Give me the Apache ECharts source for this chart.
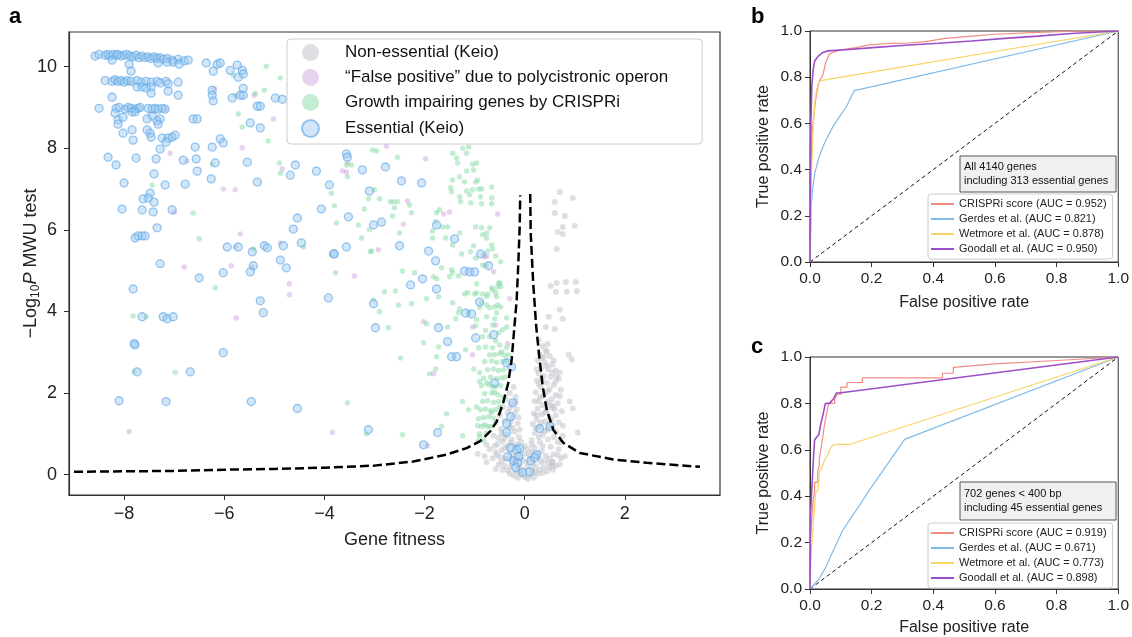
<!DOCTYPE html>
<html>
<head>
<meta charset="utf-8">
<script src="https://cdn.jsdelivr.net/npm/echarts@6/dist/echarts.min.js"></script>
<style>
html, body { margin: 0; padding: 0; background: #fff; }
#chart { width: 1132px; height: 637px; }
</style>
</head>
<body>
<div id="chart"></div>
<script>
// ---- panel a: gene fitness vs -log10 P ----
var fitTicks = [-8, -6, -4, -2, 0, 2];
var pTicks = [0, 2, 4, 6, 8, 10];

var catNames = [
  'Non-essential (Keio)',
  '\u201cFalse positive\u201d due to polycistronic operon',
  'Growth impairing genes by CRISPRi',
  'Essential (Keio)'
];

var nonEssential = [
  [0.70,6.93],[0.96,6.78],[0.60,6.68],[0.60,6.41],[0.80,6.34],[0.76,6.07],[1.00,6.10],[0.66,5.95],[0.76,5.90],[0.64,5.53],
  [0.52,4.63],[0.64,4.70],[0.82,4.72],[1.02,4.72],[0.62,4.48],[0.84,4.48],[1.04,4.50],[0.70,4.04],[0.48,3.87],[0.76,3.82],
  [0.42,3.62],[0.60,3.57],[0.88,2.94],[0.94,2.82],[0.44,3.01],[0.38,2.89],[0.70,2.50],[0.64,2.40],[0.90,1.79],[0.96,1.62],
  [0.56,1.69],[1.06,1.03],[0.74,0.78],[0.56,0.22],[0.56,0.32],[-0.94,0.51],[-0.76,0.73],
  [0.36,3.15],[0.42,3.05],[0.30,2.95],[0.50,2.90],[0.26,2.80],[0.40,2.75],[0.55,2.70],[0.33,2.62],[0.47,2.58],[0.62,2.55],
  [0.28,2.48],[0.38,2.42],[0.52,2.40],[0.68,2.35],[0.24,2.30],[0.44,2.25],[0.58,2.20],[0.32,2.15],[0.50,2.10],[0.72,2.08],
  [0.22,2.02],[0.40,1.98],[0.62,1.95],[0.30,1.90],[0.54,1.85],[0.20,1.80],[0.46,1.78],[0.66,1.75],[0.36,1.70],[0.56,1.64],
  [0.26,1.62],[0.44,1.58],[0.74,1.55],[0.18,1.50],[0.34,1.48],[0.62,1.45],[0.50,1.40],[0.24,1.36],[0.40,1.30],[0.68,1.28],
  [0.16,1.24],[0.56,1.20],[0.30,1.16],[0.46,1.10],[0.62,1.05],[0.20,1.02],[0.36,0.98],[0.76,0.95],
  [0.28,3.30],[0.46,3.20],[0.34,2.85],[0.58,2.80],[0.44,2.66],[0.24,2.58],[0.56,2.50],[0.34,2.34],[0.62,2.28],[0.28,2.22],
  [0.46,2.05],[0.36,1.92],[0.70,1.92],[0.50,1.70],[0.28,1.80],[0.60,1.60],[0.40,1.52],[0.24,1.46],[0.54,1.32],[0.32,1.28],
  [0.76,1.20],[0.48,1.22],[0.22,1.14],[0.40,1.06],[0.58,0.92],[0.28,0.92],[0.46,0.86],[0.66,0.80],[0.14,0.84],[0.30,0.80],
  [-0.22,2.15],[-0.30,2.00],[-0.18,1.90],[-0.38,1.85],[-0.26,1.72],[-0.44,1.65],[-0.16,1.60],[-0.34,1.52],[-0.50,1.45],[-0.24,1.40],
  [-0.40,1.32],[-0.58,1.28],[-0.14,1.25],[-0.30,1.18],[-0.48,1.12],[-0.20,1.05],[-0.36,0.98],[-0.62,0.95],[-0.12,0.92],[-0.26,0.86],
  [-0.44,0.82],[-0.54,0.75],[-0.16,0.74],[-0.34,0.70],
  [-0.20,1.50],[-0.28,1.30],[-0.46,1.00],[-0.24,1.14],[-0.10,1.10],[-0.40,0.90],[-0.28,0.78],[-0.08,0.82],[-0.52,0.90],[-0.30,1.62],
  [-0.18,1.78],[-0.12,1.40],
  [-0.70,0.62],[-0.58,0.55],[-0.46,0.60],[-0.30,0.56],[-0.10,0.58],[0.06,0.62],[0.20,0.66],[0.36,0.70],[0.52,0.68],[0.68,0.62],
  [-0.64,0.40],[-0.50,0.44],[-0.38,0.38],[-0.24,0.46],[-0.08,0.42],[0.08,0.48],[0.26,0.52],[0.42,0.46],[0.58,0.50],[0.72,0.40],
  [-0.52,0.25],[-0.40,0.22],[-0.26,0.28],[-0.10,0.24],[0.04,0.30],[0.18,0.26],[0.32,0.30],[0.48,0.28],[0.62,0.22],[-0.34,0.10],
  [-0.18,0.08],[-0.02,0.12],[0.14,0.10],[0.30,0.12],[0.44,0.08],[-0.22,-0.02],[-0.06,0.00],[0.10,-0.02],[0.26,0.02],[0.00,-0.06],
  [-0.12,0.16],[0.22,0.18],[0.38,0.18],[-0.44,0.12],[0.56,0.12],
  [-0.60,0.70],[-0.40,0.66],[-0.20,0.68],[0.00,0.70],[0.14,0.74],[-0.56,0.48],[-0.30,0.40],[-0.14,0.50],[0.00,0.52],[0.14,0.56],
  [0.34,0.58],[0.50,0.40],[0.66,0.48],[-0.46,0.32],[-0.18,0.34],[-0.04,0.36],[0.12,0.38],[0.28,0.40],[0.40,0.34],[0.54,0.30],
  [-0.58,0.14],[-0.28,0.18],[0.06,0.20],[0.50,0.18],[-0.10,0.04],[0.20,0.06],[0.36,0.04],[-0.30,0.02],[0.06,-0.10],[-0.14,-0.08],
  [0.18,-0.08],[-0.80,0.45],[-0.76,0.30],[0.80,0.45],[0.70,0.25]
];

var falsePositive = [
  [-7.88,9.60],[-7.16,8.96],[-7.08,7.88],[-6.74,7.69],[-6.20,9.47],[-6.02,7.00],[-5.78,6.98],[-5.64,8.01],[-5.40,9.30],[-5.02,8.72],
  [-4.84,7.49],[-3.64,7.44],[-3.56,7.42],[-3.54,7.64],[-7.00,6.44],[-5.68,5.90],[-5.78,5.58],[-4.88,5.68],[-5.86,5.12],[-6.80,5.09],
  [-5.44,5.09],[-4.70,4.68],[-4.70,4.41],[-5.76,3.84],[-3.40,4.87],[-2.92,5.51],[-7.90,1.05],[-3.84,1.03],[-2.76,8.05],[-1.98,7.74],
  [-2.34,6.71],[-1.50,6.44],[-1.62,6.39],[-0.54,6.39],[-0.80,5.34],[-0.62,4.97],[-2.42,6.14],[-0.30,4.31],[-1.04,3.62],[-2.02,3.75],
  [-0.58,3.67],[-0.34,3.21],[-1.04,2.94],[-1.82,2.47],[-1.94,0.71],[-0.76,5.36]
];

var growthImpairing = [
  [-6.88,10.16],[-5.82,9.79],[-5.16,10.01],[-4.88,9.72],[-5.38,9.35],[-5.20,9.42],[-5.78,9.30],[-5.64,8.52],[-5.72,8.84],[-5.12,8.18],
  [-4.90,7.64],[-4.88,7.39],[-3.86,6.90],[-3.80,6.59],[-3.76,6.17],[-3.54,7.30],[-3.46,7.59],[-6.62,6.41],[-7.44,7.10],[-6.24,7.61],
  [-7.92,9.62],[-7.82,3.89],[-7.56,3.87],[-7.80,2.52],[-6.98,2.50],[-6.50,5.78],[-6.18,4.58],[-5.42,5.53],[-4.42,5.58],[-3.32,6.12],
  [-3.20,6.51],[-3.10,6.00],[-3.26,5.80],[-3.08,5.46],[-3.02,4.28],[-2.90,3.99],[-2.72,3.60],[-3.54,1.76],[-3.16,1.00],
  [-3.04,7.96],[-2.96,7.93],[-2.54,7.78],[-3.56,7.59],[-1.44,7.88],[-1.36,7.76],[-1.24,8.00],[-1.16,7.88],[-1.12,8.03],[-1.34,7.64],
  [-0.96,7.64],[-1.04,7.61],[-1.02,7.47],[-1.16,7.44],[-1.44,7.22],[-1.30,7.30],[-1.20,7.17],[-0.98,7.17],[-0.94,7.22],[-1.48,7.03],
  [-1.46,6.93],[-1.16,6.95],[-1.04,6.98],[-0.92,7.00],[-0.86,7.00],[-0.66,7.05],[-1.30,6.81],[-1.10,6.86],[-0.88,6.81],[-0.66,6.78],
  [-1.28,6.69],[-1.08,6.66],[-0.86,6.64],[-0.66,6.64],[-3.00,6.98],[-3.12,6.76],[-2.90,6.76],[-2.68,6.69],[-2.62,6.69],[-2.54,6.69],
  [-2.60,6.54],[-2.30,6.61],[-2.26,6.42],[-2.64,6.34],[-1.70,6.49],[-1.76,6.42],[-1.78,6.20],[-1.54,6.07],[-1.64,6.07],[-1.84,5.97],
  [-1.84,5.80],[-1.58,5.80],[-1.30,5.92],[-0.98,6.07],[-0.86,6.05],[-0.70,6.05],[-0.84,5.88],[-0.76,5.92],[-0.76,5.80],[-0.66,5.63],
  [-0.64,5.53],[-0.74,5.48],[-0.58,5.36],[-1.02,5.61],[-1.08,5.46],[-0.82,5.39],[-0.98,5.31],[-0.78,5.12],[-0.84,5.14],[-0.48,5.22],
  [-1.26,5.41],[-1.44,5.63],[-1.44,4.95],[-1.50,4.85],[-1.66,5.07],[-1.82,4.85],[-2.20,4.95],[-2.44,4.99],[-2.50,5.92],[-3.06,5.48],
  [-3.78,4.95],[-2.58,4.50],[-2.80,4.48],[-1.76,4.80],[-0.96,4.68],[-0.96,4.46],[-0.84,4.43],[-0.66,4.58],[-0.58,4.46],[-0.52,4.70],
  [-0.48,4.61],[-0.56,4.36],[-0.76,4.36],[-1.20,4.43],
  [-1.46,5.02],[-1.32,4.87],[-2.26,4.19],[-2.52,4.16],[-1.96,4.31],[-1.72,4.36],[-1.44,4.21],[-1.30,4.06],[-1.14,4.46],[-1.00,4.43],
  [-0.74,4.43],[-0.64,4.53],[-0.54,4.60],[-0.50,4.70],[-0.86,4.21],[-0.76,4.16],[-0.70,4.09],[-0.90,4.09],[-0.60,4.11],[-0.54,4.16],
  [-0.48,4.11],[-0.56,3.97],[-0.60,3.82],[-0.76,3.87],[-0.64,3.67],[-0.96,3.80],[-1.12,3.97],[-1.32,3.97],[-1.38,3.82],[-0.98,3.65],
  [-0.78,3.53],[-0.84,3.38],[-0.70,3.38],[-0.58,3.28],[-0.52,3.48],[-0.44,3.55],[-0.36,3.62],[-0.36,3.84],[-2.02,3.23],[-1.96,3.70],
  [-1.54,3.62],[-1.72,3.13],[-1.18,3.06],[-0.92,3.11],[-0.78,3.13],[-0.64,3.11],[-0.50,3.18],[-0.36,3.11],[-0.46,3.01],[-2.48,2.86],
  [-1.76,2.89],[-1.90,2.47],[-1.78,2.59],[-0.90,2.50],[-1.02,2.59],[-1.24,1.79],[-1.12,1.59],[-0.96,1.66],[-0.92,1.37],[-0.90,2.28],
  [-0.76,2.25],[-0.64,2.15],[-0.60,2.01],[-0.44,1.91],[-0.50,1.66],[-0.66,1.52],[-0.86,1.18],[-0.74,1.18],[-0.90,0.93],[-1.24,0.95],
  [-1.56,1.49],[-1.66,1.18],[-2.44,0.98],
  [-0.70,2.94],[-0.60,2.94],[-0.50,2.96],[-0.40,2.92],[-0.32,2.94],[-0.80,2.77],[-0.66,2.79],[-0.56,2.75],[-0.44,2.77],[-0.36,2.79],
  [-0.74,2.57],[-0.62,2.59],[-0.52,2.55],[-0.42,2.57],[-0.82,2.37],[-0.68,2.39],[-0.56,2.35],[-0.46,2.37],[-0.38,2.39],[-0.86,2.18],
  [-0.72,2.20],[-0.58,2.16],[-0.48,2.18],[-0.80,1.98],[-0.66,2.00],[-0.54,1.96],[-0.84,1.79],[-0.74,1.81],[-0.62,1.77],[-0.52,1.79],
  [-0.88,1.59],[-0.78,1.61],[-0.68,1.57],[-0.58,1.59],[-0.82,1.40],[-0.72,1.42],[-0.62,1.38],[-0.94,1.20],[-0.80,1.22],[-0.68,1.18],
  [-0.90,1.00],[-0.76,1.02],[-0.94,0.81],[-0.82,0.83]
];

var essential = [
  [-8.58,10.26],[-8.50,10.30],[-8.38,10.28],[-8.32,10.30],[-8.28,10.26],[-8.22,10.30],[-8.16,10.28],[-8.12,10.30],[-8.06,10.26],[-8.00,10.28],
  [-7.94,10.30],[-7.88,10.26],[-7.82,10.24],[-7.76,10.28],[-7.70,10.22],[-7.64,10.26],[-7.58,10.22],[-7.52,10.24],[-7.46,10.20],[-7.40,10.24],
  [-7.34,10.20],[-7.28,10.22],[-7.22,10.18],[-7.14,10.20],[-7.04,10.16],[-6.92,10.18],[-6.80,10.14],[-6.72,10.16],
  [-8.24,10.16],[-7.90,10.06],[-7.86,9.89],[-7.32,10.09],[-7.14,10.11],[-7.02,10.11],[-6.90,10.06],[-6.36,10.09],[-6.22,9.89],[-6.14,10.06],
  [-6.08,10.09],[-5.74,10.04],[-5.88,9.91],[-5.64,9.91],[-5.62,9.82],[-5.72,9.74],
  [-8.38,9.66],[-8.24,9.64],[-8.18,9.68],[-8.12,9.64],[-8.06,9.66],[-8.00,9.62],[-7.94,9.66],[-7.86,9.64],[-7.74,9.66],[-7.66,9.62],
  [-7.56,9.64],[-7.46,9.62],[-7.34,9.64],[-7.28,9.60],[-7.16,9.64],[-7.12,9.58],[-6.92,9.62],
  [-7.74,9.50],[-7.64,9.50],[-7.56,9.48],[-7.46,9.50],
  [-7.46,9.35],[-7.12,9.40],[-6.92,9.30],[-8.24,9.25],[-6.24,9.42],[-6.24,9.30],[-6.22,9.16],[-5.84,9.23],[-5.68,9.30],[-5.62,9.30],
  [-5.62,9.47],[-5.34,9.03],[-5.28,9.03],[-4.98,9.23],[-4.84,9.20],
  [-8.50,8.98],[-8.16,8.98],[-8.10,9.00],[-7.98,8.96],[-7.92,9.00],[-7.86,8.98],[-7.78,8.96],[-7.72,8.98],[-7.68,9.00],[-7.52,8.98],
  [-7.44,8.96],[-7.38,8.98],[-7.32,8.96],[-7.24,8.98],[-7.18,8.96],
  [-8.18,8.86],[-8.12,8.70],[-8.02,8.76],[-7.84,8.89],[-7.78,8.89],[-7.44,8.79],[-7.54,8.72],[-7.28,8.72],[-7.34,8.67],[-7.32,8.59],
  [-8.12,8.59],[-8.02,8.37],[-7.84,8.45],[-7.82,8.20],[-7.54,8.45],[-7.48,8.37],[-7.46,8.27],[-7.24,8.25],[-7.12,8.25],[-7.04,8.27],
  [-6.98,8.32],[-7.28,7.98],[-7.16,8.15],[-6.62,8.72],[-6.54,8.72],[-6.08,8.23],[-6.02,8.13],[-6.24,8.03],[-6.58,8.03],[-5.28,8.50],
  [-5.48,8.62],
  [-8.32,7.78],[-7.76,7.76],[-7.36,7.74],[-6.82,7.71],[-6.56,7.74],[-6.18,7.64],[-6.54,7.44],[-6.26,7.25],[-8.16,7.59],[-7.40,7.37],
  [-8.00,7.15],[-7.18,7.10],[-6.78,7.12],[-5.34,7.17],[-5.54,7.66],[-4.58,7.59],[-4.68,7.34],[-4.16,7.44],[-3.90,7.10],[-3.56,7.86],
  [-3.54,7.78],[-7.48,6.90],[-7.52,6.78],[-7.62,6.76],[-7.40,6.68],[-8.04,6.51],[-7.64,6.49],[-7.42,6.44],[-7.04,6.49],[-7.34,6.05],
  [-4.54,6.29],[-4.62,6.02],[-4.06,6.51],[-3.52,6.32],
  [-7.78,5.80],[-7.72,5.85],[-7.64,5.85],[-7.58,5.85],[-7.28,5.17],[-7.82,4.55],[-6.50,4.82],[-6.02,4.95],[-5.94,5.58],[-5.72,5.58],
  [-5.44,5.46],[-5.42,5.12],[-5.48,4.97],[-5.20,5.61],[-5.14,5.56],[-4.82,5.61],[-4.88,5.26],[-4.76,5.07],[-4.46,5.68],[-3.82,5.41],
  [-3.56,5.58],[-3.02,6.12],[-2.86,6.19],[-3.92,4.33],[-3.02,4.19],[-2.98,3.60],[-5.28,4.26],[-5.22,3.97],[-7.64,3.87],[-7.22,3.87],
  [-7.14,3.82],[-7.02,3.87],[-7.80,3.21],[-7.78,3.18],[-6.02,2.99],[-7.74,2.52],[-6.68,2.52],[-8.10,1.81],[-7.16,1.79],[-5.46,1.79],
  [-4.54,1.62],[-3.12,1.10],
  [-3.24,7.47],[-2.78,7.54],[-2.46,7.20],[-2.06,7.15],[-3.10,6.95],[-2.50,5.61],[-3.80,5.41],[-1.92,5.48],[-1.78,5.24],[-0.88,5.41],
  [-0.72,5.12],[-1.20,4.99],[-1.10,4.97],[-2.28,4.65],[-2.04,4.80],[-1.76,4.55],[-1.76,6.12],[-1.40,5.78],[-1.00,4.97],
  [-0.90,4.23],[-1.18,3.96],[-1.06,3.94],[-0.62,3.43],[-1.72,3.60],[-1.54,3.26],[-1.46,2.89],[-1.36,2.89],[-0.98,3.35],[-0.36,2.74],
  [-0.26,2.64],[-0.60,2.25],[-0.24,1.76],[-0.28,1.42],[-0.36,1.25],[-0.36,1.03],[-1.74,1.03],[0.30,1.13],[0.50,1.18],[-0.28,0.66],
  [-0.16,0.61],[-0.10,0.64],[-0.34,0.44],[-0.22,0.34],[-0.12,0.44],[-0.14,0.29],[-0.18,0.17],[-0.04,0.05],[0.10,0.07],[0.12,0.34],
  [0.24,0.49],[0.20,0.42],[-2.02,0.73]
];

// threshold curve (two branches)
var cutoffLeft = [
  [-9.0,0.07],[-7.0,0.09],[-6.0,0.12],[-5.0,0.14],[-4.0,0.17],[-3.0,0.22],[-2.23,0.32],[-1.56,0.49],[-1.16,0.65],[-0.89,0.82],
  [-0.69,1.06],[-0.56,1.30],[-0.43,1.76],[-0.33,2.24],[-0.26,2.82],[-0.20,3.71],[-0.16,4.28],[-0.13,5.10],[-0.10,6.08],[-0.09,6.85]
];
var cutoffRight = [
  [0.11,6.88],[0.12,5.92],[0.17,4.69],[0.23,3.63],[0.29,2.90],[0.36,2.16],[0.44,1.59],[0.57,1.10],[0.77,0.78],[1.10,0.53],
  [1.77,0.37],[2.43,0.29],[3.50,0.19]
];

// ---- panel b: ROC, all genes ----
var rocNamesB = ['CRISPRi score (AUC = 0.952)', 'Gerdes et al. (AUC = 0.821)', 'Wetmore et al. (AUC = 0.878)', 'Goodall et al. (AUC = 0.950)'];
var rocB_crispri = [[0,0],[0.002,0.2],[0.004,0.43],[0.0075,0.57],[0.012,0.63],[0.018,0.70],[0.026,0.76],[0.031,0.785],[0.042,0.81],[0.05,0.86],
  [0.063,0.90],[0.074,0.907],[0.095,0.917],[0.149,0.928],[0.192,0.94],[0.256,0.946],[0.31,0.947],[0.375,0.954],[0.439,0.968],[0.525,0.978],
  [0.60,0.986],[0.74,0.994],[0.847,0.999],[1,1]];
var rocB_gerdes = [[0,0],[0.002,0.11],[0.004,0.24],[0.008,0.31],[0.015,0.38],[0.026,0.44],[0.042,0.50],[0.053,0.53],[0.074,0.585],[0.095,0.628],
  [0.117,0.67],[0.144,0.742],[1,1]];
var rocB_wetmore = [[0,0],[0.002,0.18],[0.005,0.40],[0.01,0.57],[0.015,0.685],[0.02,0.735],[0.026,0.77],[0.034,0.785],[1,1]];
var rocB_goodall = [[0,0],[0.001,0.33],[0.003,0.61],[0.006,0.76],[0.01,0.83],[0.015,0.87],[0.026,0.89],[0.042,0.907],[0.058,0.914],[0.095,0.917],
  [0.203,0.928],[0.31,0.938],[0.417,0.947],[0.525,0.957],[0.632,0.968],[0.739,0.978],[0.847,0.989],[1,1]];

// ---- panel c: ROC, short genes ----
var rocNamesC = ['CRISPRi score (AUC = 0.919)', 'Gerdes et al. (AUC = 0.671)', 'Wetmore et al. (AUC = 0.773)', 'Goodall et al. (AUC = 0.898)'];
var rocC_crispri = [[0,0],[0,0.2],[0.01,0.38],[0.015,0.42],[0.015,0.46],[0.025,0.46],[0.025,0.51],[0.03,0.53],[0.03,0.56],[0.035,0.60],
  [0.04,0.64],[0.045,0.69],[0.05,0.73],[0.055,0.76],[0.06,0.80],[0.08,0.80],[0.08,0.82],[0.09,0.84],[0.10,0.84],[0.10,0.87],
  [0.12,0.87],[0.12,0.89],[0.17,0.89],[0.17,0.91],[0.43,0.91],[0.43,0.93],[0.465,0.93],[0.465,0.955],[0.60,0.97],[0.80,0.985],[1,1]];
var rocC_gerdes = [[0,0],[0.03,0.045],[0.05,0.09],[0.07,0.15],[0.105,0.25],[0.20,0.44],[0.307,0.645],[1,1]];
var rocC_wetmore = [[0,0],[0.004,0.155],[0.01,0.27],[0.018,0.413],[0.026,0.427],[0.031,0.506],[0.04,0.527],[0.045,0.549],[0.05,0.563],[0.058,0.577],
  [0.063,0.60],[0.074,0.62],[0.085,0.623],[0.128,0.623],[1,1]];
var rocC_goodall = [[0,0],[0.002,0.33],[0.0075,0.47],[0.012,0.585],[0.015,0.642],[0.0225,0.656],[0.029,0.666],[0.034,0.706],[0.042,0.75],[0.05,0.80],
  [0.063,0.80],[0.077,0.821],[0.085,0.845],[0.095,0.845],[1,1]];
var diagonal = [[0,0],[1,1]];

var rocColors = ['#f28b82', '#7dbbea', '#f6d465', '#9c4fc9'];

var FONT = 'Liberation Sans, Arial, Helvetica, sans-serif';
var chart = echarts.init(document.getElementById('chart'));

function minusFmt(v) {
  return v < 0 ? '\u2212' + Math.abs(v) : String(v);
}

function rocAxes(idx) {
  var x = {
    gridIndex: idx, type: 'value', min: 0, max: 1, interval: 0.2,
    splitLine: { show: false },
    axisLine: { show: true, onZero: false, lineStyle: { color: '#333', width: 1 } },
    axisTick: { show: true, length: 5, lineStyle: { color: '#333' } },
    axisLabel: { fontSize: 15.5, color: '#222', margin: 9, formatter: function (v) { return v.toFixed(1); } },
    name: 'False positive rate', nameLocation: 'middle', nameGap: idx === 1 ? 33 : 31,
    nameTextStyle: { fontSize: 16, color: '#222' }
  };
  var y = {
    gridIndex: idx, type: 'value', min: 0, max: 1, interval: 0.2,
    splitLine: { show: false },
    axisLine: { show: true, onZero: false, lineStyle: { color: '#333', width: 1 } },
    axisTick: { show: true, length: 5, lineStyle: { color: '#333' } },
    axisLabel: { fontSize: 15.5, color: '#222', margin: 8, formatter: function (v) { return v.toFixed(1); } },
    name: 'True positive rate', nameLocation: 'middle', nameGap: 38,
    nameTextStyle: { fontSize: 16, color: '#222' }
  };
  return [x, y];
}

var axB = rocAxes(1), axC = rocAxes(2);

function rocLine(name, data, color, idx, width) {
  return {
    name: name, type: 'line', xAxisIndex: idx, yAxisIndex: idx,
    data: data, showSymbol: false, color: color,
    lineStyle: { color: color, width: width }, z: 3
  };
}

function rocLegend(names, top) {
  return {
    data: names, orient: 'vertical', left: 928, top: top,
    icon: 'rect', itemWidth: 23, itemHeight: 2, itemGap: 1,
    padding: [3, 6, 3, 3],
    textStyle: { fontSize: 11, lineHeight: 14, color: '#222', fontFamily: FONT },
    backgroundColor: '#fff', borderColor: '#ccc', borderWidth: 1, borderRadius: 3,
    selectedMode: false
  };
}

var option = {
  animation: false,
  textStyle: { fontFamily: FONT },
  grid: [
    { left: 69, top: 32, width: 651, height: 463, show: true, borderColor: '#333', borderWidth: 1.2 },
    { left: 810, top: 31, width: 311, height: 231, show: true, borderColor: '#333', borderWidth: 1 },
    { left: 810, top: 357, width: 311, height: 232, show: true, borderColor: '#333', borderWidth: 1 }
  ],
  xAxis: [
    {
      gridIndex: 0, type: 'value', min: -9.1, max: 3.9,
      splitLine: { show: false },
      axisLine: { show: true, onZero: false, lineStyle: { color: '#333', width: 1.2 } },
      axisTick: { show: true, length: 5, customValues: fitTicks, lineStyle: { color: '#333' } },
      axisLabel: { customValues: fitTicks, fontSize: 18, color: '#222', margin: 10, formatter: minusFmt },
      name: 'Gene fitness', nameLocation: 'middle', nameGap: 36,
      nameTextStyle: { fontSize: 18, color: '#222' }
    },
    axB[0], axC[0]
  ],
  yAxis: [
    {
      gridIndex: 0, type: 'value', min: -0.5, max: 10.85,
      splitLine: { show: false },
      axisLine: { show: true, onZero: false, lineStyle: { color: '#333', width: 1.2 } },
      axisTick: { show: true, length: 5, customValues: pTicks, lineStyle: { color: '#333' } },
      axisLabel: { customValues: pTicks, fontSize: 18, color: '#222', margin: 12 },
      name: '{t|\u2212Log}{s|10}{i|P}{t| MWU test}', nameLocation: 'middle', nameGap: 27,
      nameMoveOverlap: false,
      nameTextStyle: {
        rich: {
          t: { fontSize: 18, color: '#222', lineHeight: 22, verticalAlign: 'middle' },
          s: { fontSize: 12, color: '#222', lineHeight: 22, verticalAlign: 'bottom' },
          i: { fontSize: 18, color: '#222', fontStyle: 'italic', lineHeight: 22, verticalAlign: 'middle' }
        }
      }
    },
    axB[1], axC[1]
  ],
  legend: [
    {
      data: catNames, orient: 'vertical', left: 287, top: 39,
      icon: 'circle', itemWidth: 17, itemHeight: 17, itemGap: 8,
      padding: [5, 34, 6, 14],
      formatter: function (name) { return '{t|' + name + '}'; },
      textStyle: {
        fontFamily: FONT,
        rich: { t: { fontSize: 17, lineHeight: 17, color: '#111', fontFamily: FONT, padding: [0, 0, 0, 21] } }
      },
      backgroundColor: 'rgba(255,255,255,0.85)', borderColor: '#cccccc', borderWidth: 1, borderRadius: 4,
      selectedMode: false
    },
    rocLegend(rocNamesB, 194),
    rocLegend(rocNamesC, 523)
  ],
  series: [
    {
      name: catNames[0], type: 'scatter', xAxisIndex: 0, yAxisIndex: 0, data: nonEssential,
      symbolSize: 6, itemStyle: { color: 'rgba(196,198,205,0.7)' }, z: 2
    },
    {
      name: catNames[1], type: 'scatter', xAxisIndex: 0, yAxisIndex: 0, data: falsePositive,
      symbolSize: 5.5, itemStyle: { color: 'rgba(205,160,222,0.6)' }, z: 2
    },
    {
      name: catNames[2], type: 'scatter', xAxisIndex: 0, yAxisIndex: 0, data: growthImpairing,
      symbolSize: 5.5, itemStyle: { color: 'rgba(125,216,158,0.58)' }, z: 2
    },
    {
      name: catNames[3], type: 'scatter', xAxisIndex: 0, yAxisIndex: 0, data: essential,
      symbolSize: 8,
      itemStyle: { color: 'rgba(150,200,242,0.55)', borderColor: 'rgba(100,168,228,0.8)', borderWidth: 1.3 }, z: 2
    },
    {
      name: 'cutoff-left', type: 'line', xAxisIndex: 0, yAxisIndex: 0, data: cutoffLeft, showSymbol: false,
      lineStyle: { color: '#000', width: 2.5, type: [9, 4] }, z: 5
    },
    {
      name: 'cutoff-right', type: 'line', xAxisIndex: 0, yAxisIndex: 0, data: cutoffRight, showSymbol: false,
      lineStyle: { color: '#000', width: 2.5, type: [9, 4] }, z: 5
    },
    rocLine(rocNamesB[0], rocB_crispri, rocColors[0], 1, 1.2),
    rocLine(rocNamesB[1], rocB_gerdes, rocColors[1], 1, 1.2),
    rocLine(rocNamesB[2], rocB_wetmore, rocColors[2], 1, 1.2),
    rocLine(rocNamesB[3], rocB_goodall, rocColors[3], 1, 1.6),
    {
      name: 'diag-b', type: 'line', xAxisIndex: 1, yAxisIndex: 1, data: diagonal, showSymbol: false,
      lineStyle: { color: '#111', width: 1, type: [4, 3] }, z: 2
    },
    rocLine(rocNamesC[0], rocC_crispri, rocColors[0], 2, 1.2),
    rocLine(rocNamesC[1], rocC_gerdes, rocColors[1], 2, 1.2),
    rocLine(rocNamesC[2], rocC_wetmore, rocColors[2], 2, 1.2),
    rocLine(rocNamesC[3], rocC_goodall, rocColors[3], 2, 1.6),
    {
      name: 'diag-c', type: 'line', xAxisIndex: 2, yAxisIndex: 2, data: diagonal, showSymbol: false,
      lineStyle: { color: '#111', width: 1, type: [4, 3] }, z: 2
    }
  ],
  graphic: [
    { type: 'text', left: 9, top: 6, style: { text: 'a', font: 'bold 22px ' + FONT, fill: '#000' } },
    { type: 'text', left: 751, top: 6, style: { text: 'b', font: 'bold 22px ' + FONT, fill: '#000' } },
    { type: 'text', left: 751, top: 336, style: { text: 'c', font: 'bold 22px ' + FONT, fill: '#000' } },
    { type: 'rect', shape: { x: 960, y: 156, width: 156, height: 36 }, style: { fill: '#eef1ee', stroke: '#555', lineWidth: 1 }, z: 10 },
    { type: 'text', left: 964, top: 160, z: 11,
      style: { text: 'All 4140 genes\nincluding 313 essential genes', font: '11px ' + FONT, lineHeight: 14, fill: '#111' } },
    { type: 'rect', shape: { x: 960, y: 482, width: 156, height: 38 }, style: { fill: '#eef1ee', stroke: '#555', lineWidth: 1 }, z: 10 },
    { type: 'text', left: 964, top: 487, z: 11,
      style: { text: '702 genes < 400 bp\nincluding 45 essential genes', font: '11px ' + FONT, lineHeight: 14, fill: '#111' } }
  ]
};

chart.setOption(option);
</script>
</body>
</html>
